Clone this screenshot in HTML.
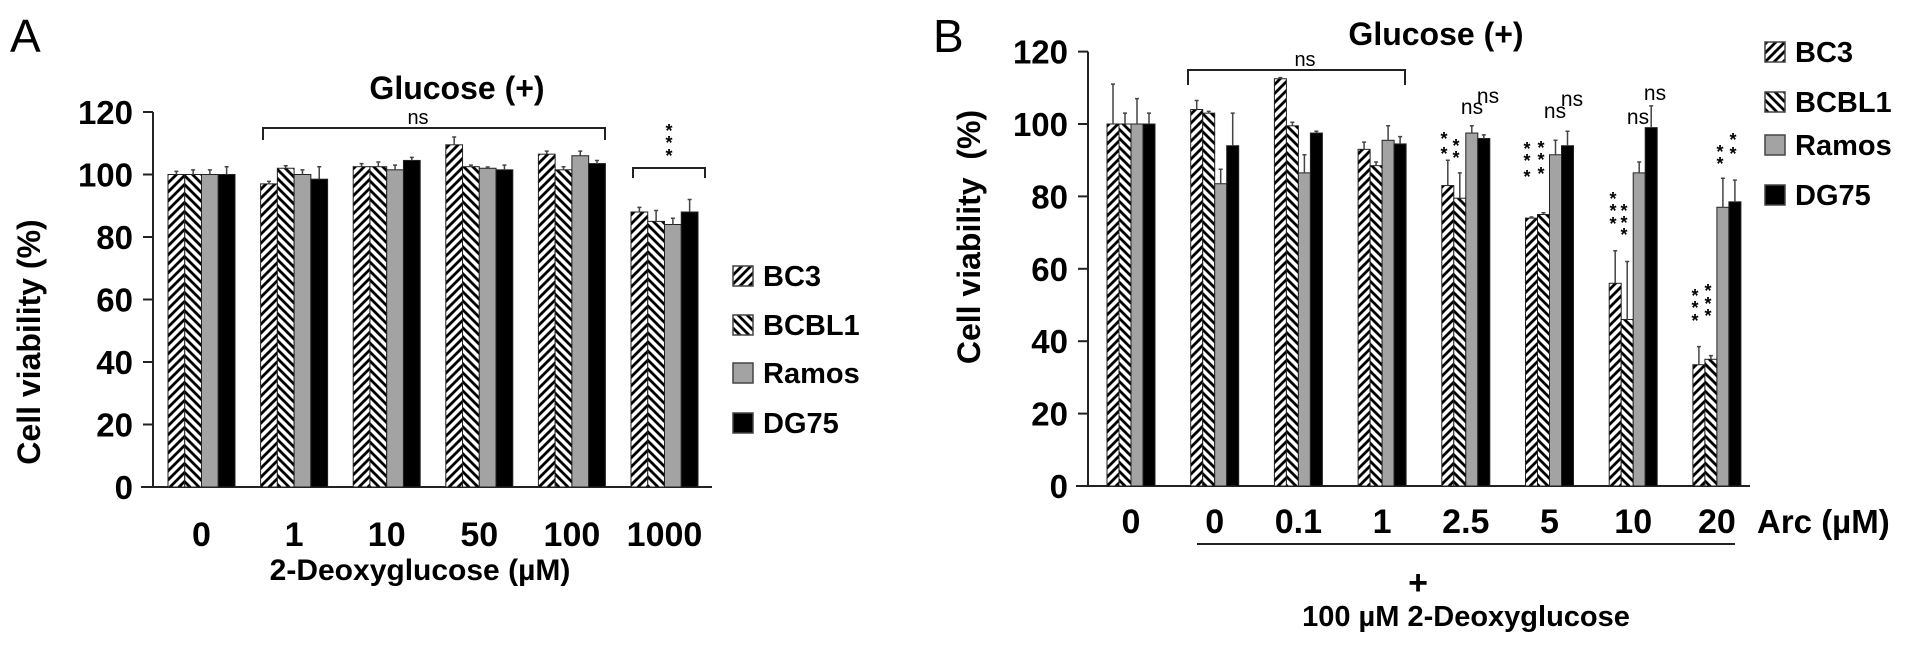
<!DOCTYPE html>
<html><head><meta charset="utf-8">
<style>
html,body{margin:0;padding:0;background:#fff;}
svg{display:block;font-family:"Liberation Sans",Arial,sans-serif;}
.b{font-weight:bold;}
</style></head>
<body>
<svg id="chart" width="1913" height="647" viewBox="0 0 1913 647" xmlns="http://www.w3.org/2000/svg">
<defs>
<pattern id="pF" patternUnits="userSpaceOnUse" width="9" height="9">
<rect width="9" height="9" fill="#fff"/>
<path d="M-2,2 L2,-2 M0,9 L9,0 M7,11 L11,7" stroke="#000" stroke-width="2.8"/>
</pattern>
<pattern id="pB" patternUnits="userSpaceOnUse" width="9" height="9">
<rect width="9" height="9" fill="#fff"/>
<path d="M-2,7 L2,11 M0,0 L9,9 M7,-2 L11,2" stroke="#000" stroke-width="2.8"/>
</pattern>
</defs>
<g id="static">
<text x="10" y="52" font-size="46">A</text>
<text x="933" y="52" font-size="46">B</text>
<text class="b" x="457" y="99" font-size="32" text-anchor="middle">Glucose (+)</text>
<text class="b" x="1436" y="45" font-size="32" text-anchor="middle">Glucose (+)</text>
<text class="b" font-size="32" text-anchor="middle" transform="translate(40,342) rotate(-90)">Cell viability (%)</text>
<text class="b" font-size="32" text-anchor="middle" transform="translate(980,237) rotate(-90)" xml:space="preserve">Cell viability  (%)</text>
<text class="b" x="420" y="580" font-size="30" text-anchor="middle">2-Deoxyglucose (µM)</text>
<text class="b" x="1757" y="533" font-size="33">Arc (µM)</text>
<line x1="1197" y1="544" x2="1735" y2="544" stroke="#222" stroke-width="2"/>
<text class="b" x="1418" y="594" font-size="34" text-anchor="middle">+</text>
<text class="b" x="1466" y="626" font-size="29" text-anchor="middle">100 µM 2-Deoxyglucose</text>
<path d="M263,140 V128 H605 V140" fill="none" stroke="#222" stroke-width="2"/>
<text x="418" y="124" font-size="20" text-anchor="middle">ns</text>
<path d="M633,178 V168 H705 V178" fill="none" stroke="#222" stroke-width="2"/>
<path d="M1188,85 V70 H1405 V85" fill="none" stroke="#222" stroke-width="2"/>
<text x="1305" y="66" font-size="20" text-anchor="middle">ns</text>
</g>
<g id="marks"></g>
</svg>
<script>
// Panel A data
const catsA = ["0","1","10","50","100","1000"];
const bc3A = [100, 97, 102.5, 109.5, 106.5, 88];
const bcbl1A = [100, 102, 102.5, 102.5, 101.5, 85];
const ramosA = [100, 100, 101.5, 102, 106, 84];
const dg75A = [100, 98.5, 104.5, 101.5, 103.5, 88];
const bc3AErr = [1, 0.8, 1, 2.5, 1, 1.5];
const bcbl1AErr = [1.5, 0.8, 1.5, 0.5, 1, 3.5];
const ramosAErr = [1.5, 1.5, 1.5, 0.4, 1.5, 2];
const dg75AErr = [2.5, 4, 1, 1.5, 1, 4];
const ticksA = [0,20,40,60,80,100,120];
// Panel B data
const catsB = ["0","0","0.1","1","2.5","5","10","20"];
const bc3B = [100, 104, 112.5, 93, 83, 74, 56, 33.5];
const bcbl1B = [100, 103, 99.5, 88.5, 79.5, 75, 46, 35];
const ramosB = [100, 83.5, 86.5, 95.5, 97.5, 91.5, 86.5, 77];
const dg75B = [100, 94, 97.5, 94.5, 96, 94, 99, 78.5];
const bc3BErr = [11, 2.5, 0.3, 2, 7, 0.3, 9, 5];
const bcbl1BErr = [3, 0.5, 1, 1, 7, 0.5, 16, 1];
const ramosBErr = [7, 4, 5, 4, 2, 4, 3, 8];
const dg75BErr = [3, 9, 0.5, 2, 1, 4, 6, 6];
const ticksB = [0,20,40,60,80,100,120];
const legendLabels = ["BC3","BCBL1","Ramos","DG75"];

const NS = "http://www.w3.org/2000/svg";
const g = document.getElementById('marks');
function mk(tag, attrs, parent){ const e=document.createElementNS(NS,tag); for(const k in attrs) e.setAttribute(k,attrs[k]); (parent||g).appendChild(e); return e; }

const fills = ["url(#pF)","url(#pB)","#a3a3a3","#000"];

function panel(cfg){
  const {cats, series, errs, ticks, x0, step, barW, axisX, axisEnd, base, pxPer, key, tickFs, labelY, labelFs} = cfg;
  const y = v => base - v*pxPer;
  const xg = i => x0 + i*step;
  const ya = mk('line',{x1:axisX,y1:y(120),x2:axisX,y2:base,stroke:'#222','stroke-width':2});
  
  
  const xa = mk('line',{x1:axisX-12,y1:base,x2:axisEnd,y2:base,stroke:'#222','stroke-width':2});
  
  
  ticks.forEach(t=>{
    const tl = mk('line',{x1:axisX-10,y1:y(t),x2:axisX,y2:y(t),stroke:'#222','stroke-width':2});
    
    
    const tx = mk('text',{x:axisX-20,y:y(t)+12,'font-size':tickFs,'font-weight':'bold','text-anchor':'end'});
    tx.textContent = t;
    
    
  });
  cats.forEach((c,i)=>{
    series.forEach((s,j)=>{
      const bx = xg(i) + j*barW;
      const top = y(s[i]);
      const r = mk('rect',{x:bx,y:top,width:barW,height:base-top,fill:fills[j],stroke:'#222','stroke-width':1});
      
      
      const e = errs[j][i];
      const cx = bx + barW/2;
      const el = mk('path',{d:`M${cx},${top} V${y(s[i]+e)} M${cx-2},${y(s[i]+e)} H${cx+2}`,stroke:'#444','stroke-width':1.5,fill:'none'});
      
      
    });
    const lt = mk('text',{x:xg(i)+barW*2,y:labelY,'font-size':labelFs,'font-weight':'bold','text-anchor':'middle'});
    lt.textContent = c;
    
    
  });
}

panel({cats:catsA, series:[bc3A,bcbl1A,ramosA,dg75A], errs:[bc3AErr,bcbl1AErr,ramosAErr,dg75AErr], ticks:ticksA,
  x0:168, step:92.6, barW:16.75, axisX:153, axisEnd:712, base:487, pxPer:3.125, key:'panel-a', tickFs:33, labelY:546, labelFs:34});
panel({cats:catsB, series:[bc3B,bcbl1B,ramosB,dg75B], errs:[bc3BErr,bcbl1BErr,ramosBErr,dg75BErr], ticks:ticksB,
  x0:1107, step:83.7, barW:12, axisX:1088, axisEnd:1750, base:486, pxPer:3.62, key:'panel-b', tickFs:33, labelY:533, labelFs:34});

function legend(x, ys, fs, key){
  legendLabels.forEach((l,j)=>{
    const r = mk('rect',{x:x,y:ys[j]-10,width:20,height:20,fill:fills[j],stroke:'#444','stroke-width':1.5});
    
    
    const t = mk('text',{x:x+30,y:ys[j]+10,'font-size':fs,'font-weight':'bold'});
    t.textContent = l;
    
    
  });
}
legend(733,[276,325,373,423],29,'panel-a');
legend(1765,[52,102,145,195],29,'panel-b');

const stars = [
  [669,130],[669,142],[669,155],
  [1444,138],[1444,153],[1456,145],[1456,157],
  [1527,148],[1527,160],[1527,176],[1541,147],[1541,159],[1541,173],
  [1613,198],[1613,210],[1613,223],[1624,210],[1624,222],[1624,234],
  [1720,151],[1720,163],[1733,139],[1733,153],
  [1695,295],[1695,307],[1695,320],[1708,290],[1708,303],[1708,315]
];
stars.forEach(p=>{
  const s = mk('text',{x:p[0],y:p[1]+7,'font-size':18,'font-weight':'bold','text-anchor':'middle'});
  s.textContent = '*';
  
  
});
const nsLabels = [[1472,107],[1488,96],[1555,111],[1572,99],[1638,117],[1655,93]];
nsLabels.forEach(p=>{
  const s = mk('text',{x:p[0],y:p[1]+7,'font-size':21,'text-anchor':'middle'});
  s.textContent = 'ns';
  
  
});
</script>
</body></html>
